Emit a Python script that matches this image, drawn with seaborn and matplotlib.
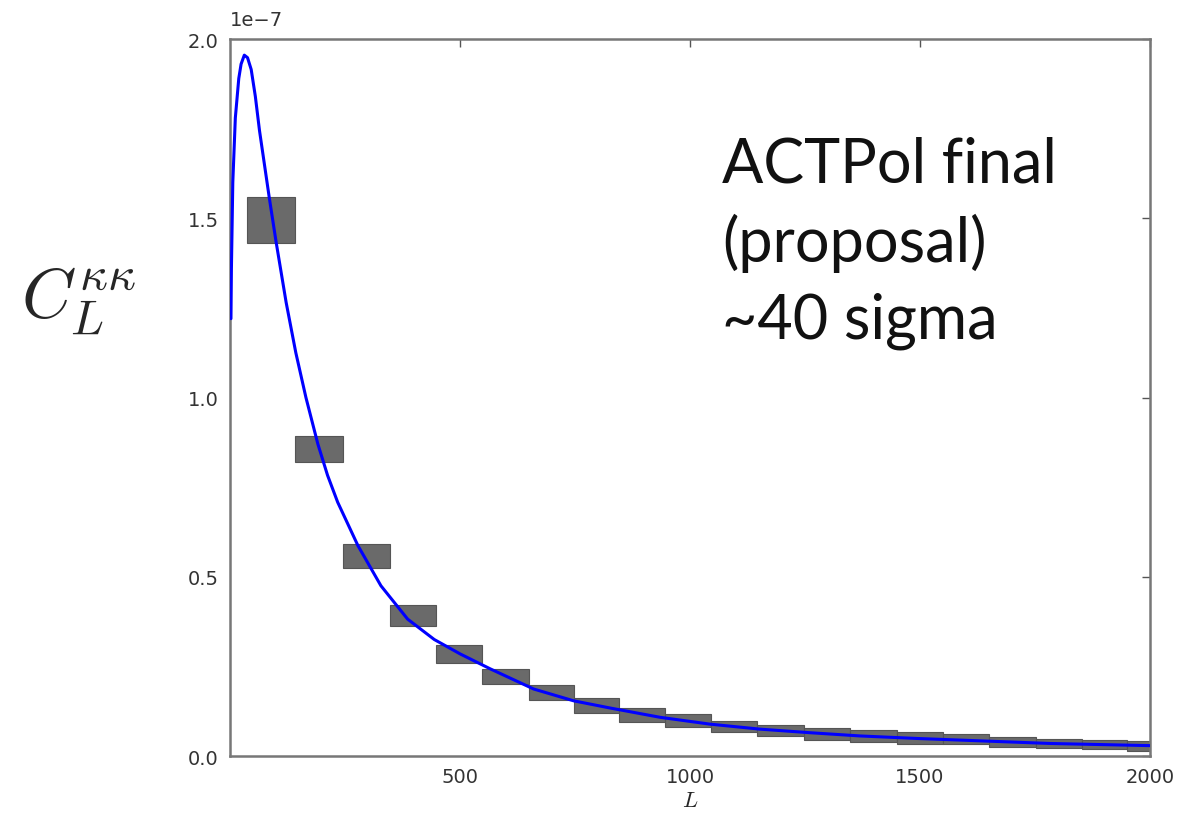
import numpy as np
import matplotlib
matplotlib.use("Agg")
import matplotlib.pyplot as plt
import seaborn as sns

# theory curve C_L^kk (units of 1e-7)
curve_L = [2, 3, 6, 11.5, 19, 24, 31, 38, 46, 55, 64, 85, 100, 122, 143, 165, 191,
           212, 234, 278, 328, 386, 444, 500, 566, 660, 747, 826, 935, 1043, 1152,
           1261, 1370, 1493, 1638, 1783, 2000]
curve_C = [1.22, 1.36, 1.60, 1.78, 1.89, 1.93, 1.955, 1.948, 1.915, 1.84, 1.745,
           1.56, 1.435, 1.265, 1.125, 1.0, 0.870, 0.783, 0.708, 0.587, 0.475,
           0.382, 0.325, 0.285, 0.243, 0.187, 0.154, 0.134, 0.108, 0.089, 0.075,
           0.065, 0.056, 0.049, 0.042, 0.035, 0.029]

# binned forecast errors (boxes): bin edges, centre value, half height
bin_edges = [37, 142, 245, 347, 448, 548, 651, 748, 846, 945, 1045, 1146, 1248,
             1348, 1450, 1550, 1651, 1752, 1852, 1950, 2050]
bin_C = [1.494, 0.857, 0.558, 0.393, 0.285, 0.221, 0.177, 0.141, 0.114, 0.099,
         0.083, 0.072, 0.061, 0.056, 0.050, 0.047, 0.039, 0.034, 0.032, 0.028]
bin_err = [0.064, 0.037, 0.034, 0.029, 0.025, 0.021, 0.021, 0.020, 0.019, 0.017,
           0.015, 0.015, 0.016, 0.016, 0.016, 0.014, 0.015, 0.013, 0.013, 0.014]

sns.set_style("white")
plt.rcParams["mathtext.fontset"] = "cm"

fig = plt.figure(figsize=(11.87, 8.2), dpi=100)
ax = fig.add_axes([0.1938, 0.0768, 0.775, 0.8744])

edges = np.array(bin_edges)
centers = (edges[:-1] + edges[1:]) / 2
widths = np.diff(edges)
lo = (np.array(bin_C) - np.array(bin_err)) * 1e-7
ax.bar(centers, 2 * np.array(bin_err) * 1e-7, bottom=lo, width=widths,
       color="#6a6a6a", edgecolor="#555555", linewidth=0.8, zorder=2)

sns.lineplot(x=curve_L, y=np.array(curve_C) * 1e-7, color="#0000ff", lw=2.2,
             ax=ax, zorder=3)

ax.set_xlim(0, 2000)
ax.set_ylim(0, 2.0e-7)
ax.set_xticks([500, 1000, 1500, 2000])
ax.set_yticks(np.arange(0, 2.01e-7, 0.5e-7))
ax.tick_params(direction="in", top=True, right=True, length=6, width=1,
               colors="#555555", labelcolor="#333333", labelsize=14, pad=8)
ax.yaxis.OFFSETTEXTPAD = 10
ax.yaxis.get_offset_text().set_fontsize(14)
ax.yaxis.get_offset_text().set_color("#333333")
for s in ax.spines.values():
    s.set_color("#777777")
    s.set_linewidth(1.8)

ax.set_xlabel("$L$", fontsize=16, labelpad=3)
ax.set_ylabel(r"$C_L^{\kappa\kappa}$", fontsize=50, rotation=0)
ax.yaxis.set_label_coords(-0.165, 0.585)

ax.text(0.535, 0.865, "ACTPol final\n(proposal)\n~40 sigma", transform=ax.transAxes,
        fontsize=44, family="Lato", va="top", ha="left", linespacing=1.42,
        color="#111111")

fig.savefig("out.png", dpi=100)
